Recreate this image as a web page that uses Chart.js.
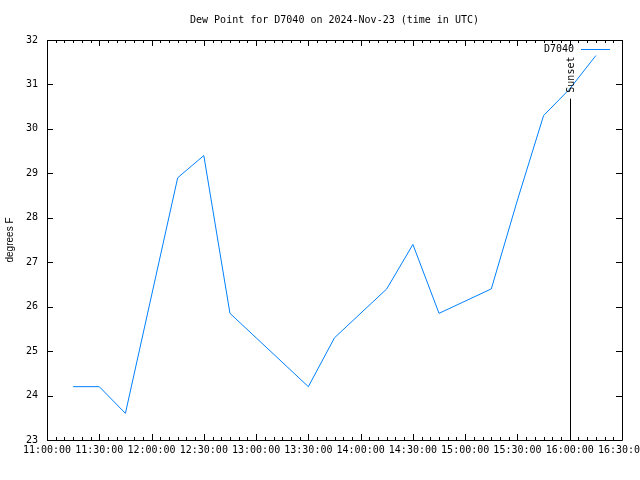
<!DOCTYPE html>
<html>
<head>
<meta charset="utf-8">
<script src="https://cdn.jsdelivr.net/npm/chart.js@4/dist/chart.umd.min.js"></script>
<style>
  html, body { margin: 0; padding: 0; background: #fff; }
  #wrap { width: 640px; height: 480px; }
</style>
</head>
<body>
<div id="wrap"><canvas id="myChart" width="640" height="480"></canvas></div>
<script>
const times = ["11:15", "11:30", "11:45", "12:15", "12:30", "12:45", "13:30", "13:45",
               "14:15", "14:30", "14:45", "15:15", "15:30", "15:45", "16:00", "16:15"];
const dewPoints = [24.2, 24.2, 23.6, 28.9, 29.4, 25.85, 24.2, 25.3,
                   26.4, 27.4, 25.85, 26.4, 28.4, 30.3, 30.9, 31.65];
const stationName = "D7040";
const chartTitle = "Dew Point for " + stationName + " on 2024-Nov-23 (time in UTC)";
const xMinTime = "11:00";
const xMaxTime = "16:30";
const sunsetTime = "16:00";
const sunsetTop = 30.68;
const yMin = 23, yMax = 32;

const mono = "'DejaVu Sans Mono', 'Liberation Mono', monospace";

function toMinutes(t) {
    const parts = t.split(":");
    return parseInt(parts[0]) * 60 + parseInt(parts[1]);
}
function fmt(m) {
    const h = Math.floor(m / 60), mm = m % 60;
    return String(h).padStart(2, "0") + ":" + String(mm).padStart(2, "0") + ":00";
}

const points = times.map(function (t, i) {
    return { x: toMinutes(t), y: dewPoints[i] };
});

// gnuplot style frame, inward ticks, title, legend and sunset marker
const framePlugin = {
    id: "frame",
    afterDraw(chart) {
        const ctx = chart.ctx;
        const a = chart.chartArea;
        const xs = chart.scales.x, ys = chart.scales.y;
        ctx.save();
        ctx.strokeStyle = "#000";
        ctx.fillStyle = "#000";
        ctx.lineWidth = 1;
        ctx.beginPath();
        ctx.rect(Math.round(a.left) + 0.5, Math.round(a.top) + 0.5,
                 Math.round(a.right - a.left), Math.round(a.bottom - a.top));
        ctx.stroke();

        ctx.beginPath();
        xs.ticks.forEach(function (t) {
            const px = Math.round(xs.getPixelForValue(t.value)) + 0.5;
            const len = (t.value % 30 === 0) ? 6 : 3;
            ctx.moveTo(px, a.bottom); ctx.lineTo(px, a.bottom - len);
            ctx.moveTo(px, a.top); ctx.lineTo(px, a.top + len);
        });
        ys.ticks.forEach(function (t) {
            const py = Math.round(ys.getPixelForValue(t.value)) + 0.5;
            ctx.moveTo(a.left, py); ctx.lineTo(a.left + 6, py);
            ctx.moveTo(a.right, py); ctx.lineTo(a.right - 6, py);
        });
        ctx.stroke();

        // title, centred over the plot area
        ctx.font = "10px " + mono;
        ctx.textAlign = "center";
        ctx.textBaseline = "middle";
        ctx.fillText(chartTitle, (a.left + a.right) / 2, 20);

        // sunset line
        const sx = Math.round(xs.getPixelForValue(toMinutes(sunsetTime))) + 0.5;
        const sTop = ys.getPixelForValue(sunsetTop);
        ctx.beginPath();
        ctx.moveTo(sx, a.bottom);
        ctx.lineTo(sx, sTop);
        ctx.stroke();
        ctx.save();
        ctx.translate(sx + 1, sTop - 6);
        ctx.rotate(-Math.PI / 2);
        ctx.textAlign = "left";
        ctx.textBaseline = "middle";
        ctx.fillText("Sunset", 0, 0);
        ctx.restore();

        // legend
        const ly = a.top + 9.5;
        ctx.textAlign = "right";
        ctx.textBaseline = "middle";
        ctx.fillText(chart.data.datasets[0].label, a.right - 48, ly);
        ctx.strokeStyle = chart.data.datasets[0].borderColor;
        ctx.beginPath();
        ctx.moveTo(a.right - 41, ly);
        ctx.lineTo(a.right - 12, ly);
        ctx.stroke();
        ctx.restore();
    }
};

const ctx = document.getElementById("myChart");

new Chart(ctx, {
    type: "line",
    data: {
        datasets: [{
            label: stationName,
            data: points,
            borderColor: "#0080ff",
            borderWidth: 1,
            pointRadius: 0,
            tension: 0,
            fill: false
        }]
    },
    options: {
        responsive: false,
        animation: false,
        layout: { padding: { left: 0, right: 18, top: 40, bottom: 0 } },
        plugins: {
            legend: { display: false },
            tooltip: { enabled: false },
            title: { display: false }
        },
        scales: {
            x: {
                type: "linear",
                min: toMinutes(xMinTime),
                max: toMinutes(xMaxTime),
                border: { display: false },
                grid: { display: false, drawTicks: false },
                ticks: {
                    stepSize: 5,
                    autoSkip: false,
                    maxRotation: 0,
                    minRotation: 0,
                    padding: 4,
                    color: "#000",
                    font: { family: mono, size: 10 },
                    callback: function (value) {
                        return value % 30 === 0 ? fmt(value) : "";
                    }
                },
                afterFit: function (scale) {
                    scale.height = 40;
                    scale.paddingLeft = 0;
                    scale.paddingRight = 0;
                }
            },
            y: {
                type: "linear",
                min: yMin,
                max: yMax,
                border: { display: false },
                grid: { display: false, drawTicks: false },
                ticks: {
                    stepSize: 1,
                    padding: 9,
                    color: "#000",
                    font: { family: mono, size: 10 }
                },
                title: {
                    display: true,
                    text: "degrees F",
                    color: "#000",
                    font: { family: "'Liberation Sans', Arial, sans-serif", size: 10 },
                    padding: { top: 4, bottom: 0 }
                },
                afterFit: function (scale) {
                    scale.width = 47;
                }
            }
        }
    },
    plugins: [framePlugin]
});
</script>
</body>
</html>
